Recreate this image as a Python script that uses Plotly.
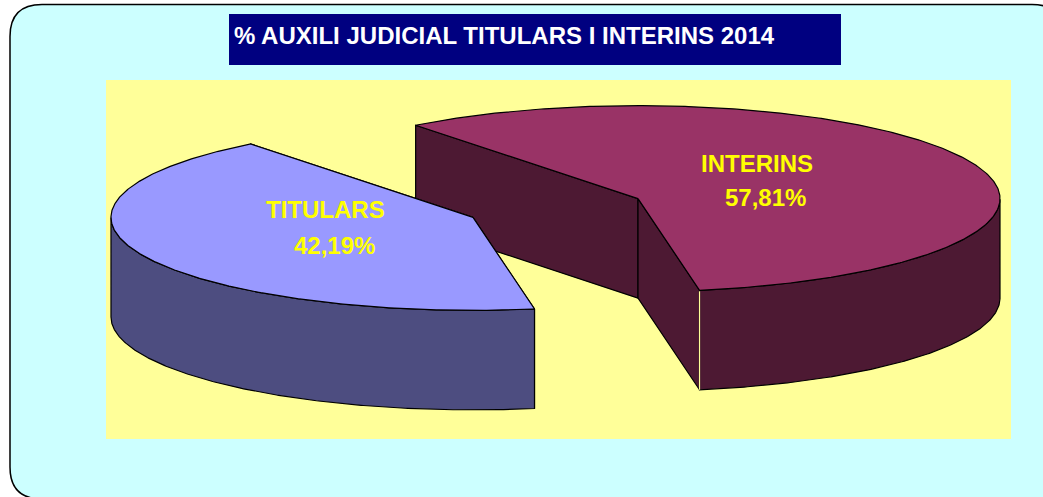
import numpy as np
import plotly.graph_objects as go

# data
CATEGORIES = ["TITULARS", "INTERINS"]
VALUES = [42.19, 57.81]
TITLE = "% AUXILI JUDICIAL TITULARS I INTERINS 2014"

# style
TOP = ["#9999ff", "#993366"]
SIDE = ["#4d4d80", "#4d1933"]
CX, CY = 555.5, 208.0     # pie centre (axis units are pixels)
RX, RY = 362.0, 93.0
DEPTH = 99.5
PULL = 0.2492
START = 127.9             # where the INTERINS slice begins (deg, clockwise)

fig = go.Figure()


def ell(t, cx, cy):
    r = np.radians(t)
    return cx + RX * np.cos(r), cy - RY * np.sin(r)


def poly(x, y, color, lw=1.2, lc="#000000"):
    fig.add_trace(go.Scatter(x=np.r_[x, x[0]], y=np.r_[y, y[0]], mode="lines", fill="toself",
                             fillcolor=color, line=dict(color=lc, width=lw),
                             hoverinfo="skip", showlegend=False))


# slices: INTERINS first (behind), then TITULARS
span = [v * 3.6 for v in VALUES]
slices = [(1, START, START - span[1]), (0, START - span[1], START - span[1] - span[0])]
for idx, a1, a2 in slices:
    mid = np.radians((a1 + a2) / 2)
    cx = CX + PULL * RX * np.cos(mid)
    cy = CY - PULL * RY * np.sin(mid)
    # cut faces
    for a in (a1, a2):
        ex, ey = ell(a, cx, cy)
        poly(np.array([cx, ex, ex, cx]), np.array([cy, ey, ey + DEPTH, cy + DEPTH]), SIDE[idx])
    # outer wall (front half only)
    t = np.linspace(a1, a2, 400)
    t = t[np.sin(np.radians(t)) <= 0]
    wx, wy = ell(t, cx, cy)
    poly(np.r_[wx, wx[::-1]], np.r_[wy, (wy + DEPTH)[::-1]], SIDE[idx])
    # top
    t = np.linspace(a1, a2, 400)
    ex, ey = ell(t, cx, cy)
    poly(np.r_[cx, ex], np.r_[cy, ey], TOP[idx])
    if idx == 1:
        # pale hairline where the front cut face meets the outer wall
        ex, ey = ell(a2, cx, cy)
        fig.add_trace(go.Scatter(x=[ex, ex], y=[ey + 1, ey + DEPTH], mode="lines",
                                 line=dict(color="#ffff99", width=1.2),
                                 hoverinfo="skip", showlegend=False))

label_pos = {0: (325.5, 209, 334.5, 245), 1: (757, 163, 765, 197)}
for i, name in enumerate(CATEGORIES):
    x1, y1, x2, y2 = label_pos[i]
    for x, y, s in ((x1, y1, name), (x2, y2, f"{VALUES[i]:.2f}".replace(".", ",") + "%")):
        fig.add_annotation(x=x, y=y, text=s, showarrow=False, xanchor="center", yanchor="middle",
                           font=dict(family="Liberation Sans", size=24, color="#ffff00", weight="bold"))

fig.add_annotation(x=232, y=35, text=TITLE, showarrow=False, xanchor="left", yanchor="middle",
                   font=dict(family="Liberation Sans", size=24, color="#ffffff", weight="bold"))

R = 32
L, T, RR, B = 10, 4.5, 1064, 499
panel = (f"M {L+R} {T} L {RR-R} {T} Q {RR} {T} {RR} {T+R} L {RR} {B-R} Q {RR} {B} {RR-R} {B} "
         f"L {L+R} {B} Q {L} {B} {L} {B-R} L {L} {T+R} Q {L} {T} {L+R} {T} Z")
fig.update_layout(
    width=1043, height=497, margin=dict(l=0, r=0, t=0, b=0),
    paper_bgcolor="#ffffff", plot_bgcolor="rgba(0,0,0,0)",
    xaxis=dict(range=[0, 1043], visible=False, fixedrange=True),
    yaxis=dict(range=[497, 0], visible=False, fixedrange=True),
    shapes=[
        dict(type="path", path=panel, xref="x", yref="y", fillcolor="#ccffff",
             line=dict(color="#000000", width=1.5), layer="below"),
        dict(type="rect", x0=106, x1=1011, y0=80, y1=439, xref="x", yref="y",
             fillcolor="#ffff99", line_width=0, layer="below"),
        dict(type="rect", x0=229, x1=841, y0=14, y1=65, xref="x", yref="y",
             fillcolor="#000080", line_width=0, layer="below"),
    ],
)
fig.write_html("out.html", post_script="document.body.style.margin='0';document.body.style.overflow='hidden';",
               config={"displayModeBar": False})
